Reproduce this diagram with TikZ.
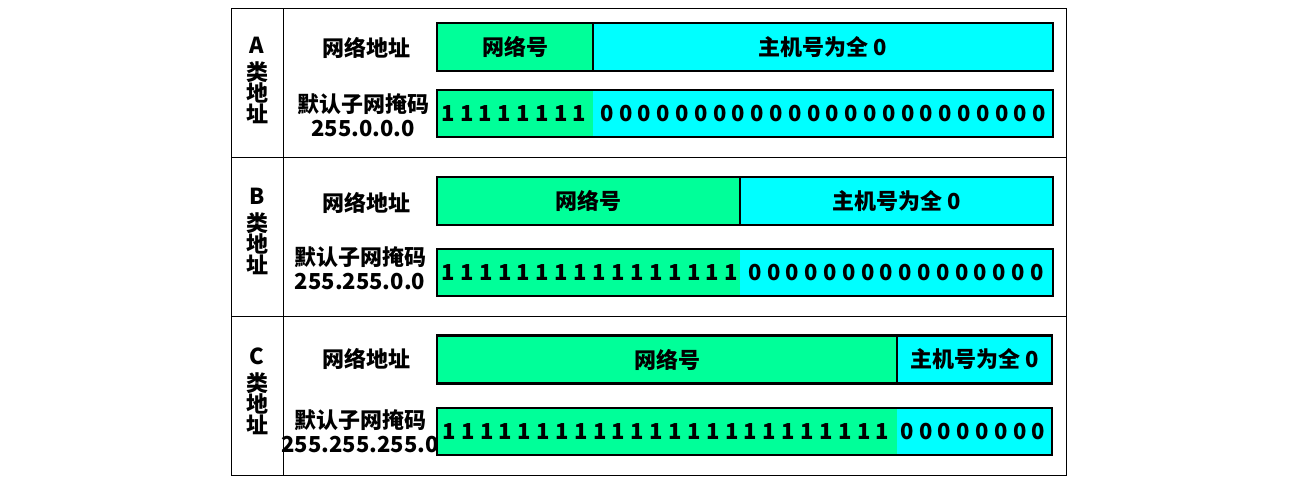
\documentclass[tikz,border=0pt]{standalone}
\usepackage{fontspec}
\setmainfont{Noto Sans CJK SC}
\usepackage{tikz}
\usetikzlibrary{positioning}
\definecolor{netgreen}{RGB}{0,255,153}
\definecolor{hostcyan}{RGB}{0,255,255}
\tikzset{
  cell/.style={draw=black, line width=0.9pt},
  classlbl/.style={font=\bfseries\fontsize{22}{21}\selectfont, align=center, inner sep=0pt},
  rowlbl/.style={font=\bfseries\fontsize{22}{23.5}\selectfont, align=center, inner sep=0pt},
  netpart/.style={fill=netgreen, minimum height=48pt, inner sep=0pt, outer sep=0pt,
                  anchor=west, font=\bfseries\fontsize{22}{22}\selectfont},
  hostpart/.style={fill=hostcyan, minimum height=48pt, inner sep=0pt, outer sep=0pt,
                   anchor=west, font=\bfseries\fontsize{22}{22}\selectfont},
  barframe/.style={draw=black, line width=2.6pt},
  divider/.style={draw=black, line width=1.8pt},
  bit/.style={font=\bfseries\fontsize{22}{22}\selectfont, inner sep=0pt}
}

\begin{document}
\begin{tikzpicture}[x=1pt,y=-1pt]
\useasboundingbox (0,0) rectangle (1308,488);
% table
\draw[cell] (231,8) rectangle (1066,475);
\draw[cell] (283,8) -- (283,475);
\draw[cell] (231,157) -- (1066,157);
\draw[cell] (231,316) -- (1066,316);

% A class
\node[classlbl] (alabel) at (257,80) {A\\[6pt]类\\地\\址};
\node[rowlbl] (anetlbl) at (366,48) {网络地址};
\node[rowlbl] (amasklbl) at (363,115) {默认子网掩码\\255.0.0.0};
\node[netpart, minimum width=156pt] (anet) at (437,47) {网络号};
\node[hostpart, minimum width=460pt] (ahost) at (anet.east) {主机号为全 0};
\draw[barframe] (anet.north west) rectangle (ahost.south east);
\draw[divider] (anet.north east) -- (anet.south east);
\node[netpart, minimum width=156pt, minimum height=47pt] (amaskone) at (437,113.5) {};
\node[hostpart, minimum width=460pt, minimum height=47pt] (amaskzero) at (amaskone.east) {};
\draw[barframe] (amaskone.north west) rectangle (amaskzero.south east);
\foreach \i in {0,...,7}
  \node[bit] (aone\i) at ({448+18.8*\i},114) {1};
\foreach \i in {0,...,23}
  \node[bit] (azero\i) at ({607+18.8*\i},114) {0};

% B class
\node[classlbl] (blabel) at (257,231) {B\\[6pt]类\\地\\址};
\node[rowlbl] (bnetlbl) at (366,202.5) {网络地址};
\node[rowlbl] (bmasklbl) at (360,268) {默认子网掩码\\255.255.0.0};
\node[netpart, minimum width=303pt] (bnet) at (437,201) {网络号};
\node[hostpart, minimum width=313pt] (bhost) at (bnet.east) {主机号为全 0};
\draw[barframe] (bnet.north west) rectangle (bhost.south east);
\draw[divider] (bnet.north east) -- (bnet.south east);
\node[netpart, minimum width=303pt, minimum height=47pt] (bmaskone) at (437,272.5) {};
\node[hostpart, minimum width=313pt, minimum height=47pt] (bmaskzero) at (bmaskone.east) {};
\draw[barframe] (bmaskone.north west) rectangle (bmaskzero.south east);
\foreach \i in {0,...,15}
  \node[bit] (bone\i) at ({448+18.9*\i},273) {1};
\foreach \i in {0,...,15}
  \node[bit] (bzero\i) at ({755+18.8*\i},273) {0};

% C class
\node[classlbl] (clabel) at (257,391) {C\\[6pt]类\\地\\址};
\node[rowlbl] (cnetlbl) at (366,359) {网络地址};
\node[rowlbl] (cmasklbl) at (360,431) {默认子网掩码\\255.255.255.0};
\node[netpart, minimum width=460pt] (cnet) at (437,359.5) {网络号};
\node[hostpart, minimum width=155pt] (chost) at (cnet.east) {主机号为全 0};
\draw[barframe] (cnet.north west) rectangle (chost.south east);
\draw[divider] (cnet.north east) -- (cnet.south east);
\node[netpart, minimum width=460pt, minimum height=47pt] (cmaskone) at (437,431.5) {};
\node[hostpart, minimum width=155pt, minimum height=47pt] (cmaskzero) at (cmaskone.east) {};
\draw[barframe] (cmaskone.north west) rectangle (cmaskzero.south east);
\foreach \i in {0,...,23}
  \node[bit] (cone\i) at ({449+18.85*\i},432) {1};
\foreach \i in {0,...,7}
  \node[bit] (czero\i) at ({907+18.8*\i},432) {0};
\end{tikzpicture}
\end{document}
